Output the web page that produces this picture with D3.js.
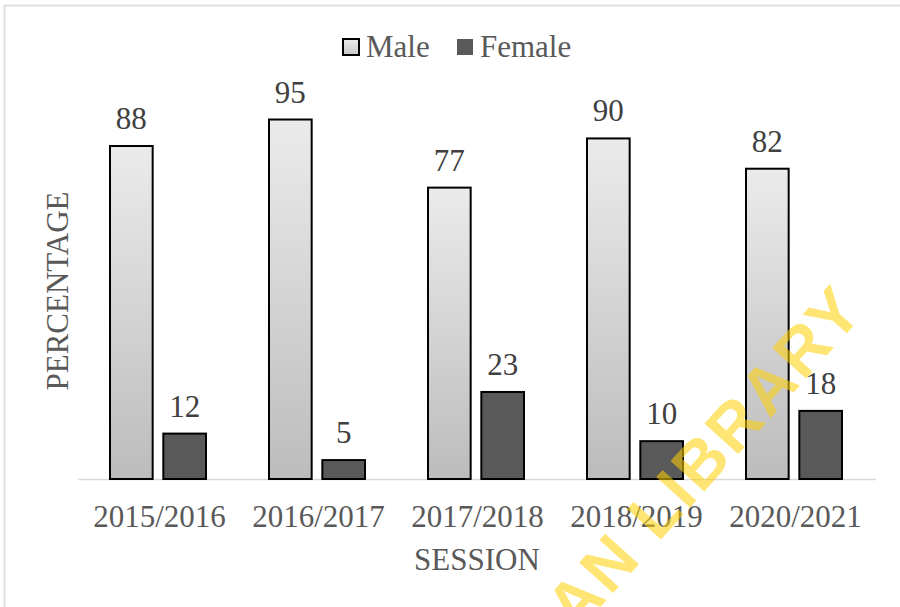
<!DOCTYPE html>
<html>
<head>
<meta charset="utf-8">
<script src="https://cdn.jsdelivr.net/npm/d3@7"></script>
<style>
  html, body { margin: 0; padding: 0; background: #fff; }
  svg { display: block; }
  .serif { font-family: "Liberation Serif", "Times New Roman", serif; }
  .wm { font-family: "Liberation Sans", Arial, sans-serif; font-weight: 700; }
</style>
</head>
<body>
<svg id="chart" width="900" height="607"></svg>
<script>
const categories = ["2015/2016", "2016/2017", "2017/2018", "2018/2019", "2020/2021"];
const seriesNames = ["Male", "Female"];
const maleValues = [88, 95, 77, 90, 82];
const femaleValues = [12, 5, 23, 10, 18];
const xTitle = "SESSION";
const yTitle = "PERCENTAGE";
const watermarkText = "AN LIBRARY";

const svg = d3.select("#chart");
const W = 900, H = 607;

// frame
svg.append("rect").attr("x", 4.5).attr("y", 5.5).attr("width", W).attr("height", H)
  .attr("fill", "#fff").attr("stroke", "#e0e0e0").attr("stroke-width", 2);

const defs = svg.append("defs");
const grad = defs.append("linearGradient").attr("id", "maleGrad")
  .attr("x1", 0).attr("y1", 0).attr("x2", 0).attr("y2", 1);
grad.append("stop").attr("offset", "0%").attr("stop-color", "#ebebeb");
grad.append("stop").attr("offset", "100%").attr("stop-color", "#bcbcbc");
const lgrad = defs.append("linearGradient").attr("id", "maleGradLegend")
  .attr("x1", 0).attr("y1", 0).attr("x2", 0).attr("y2", 1);
lgrad.append("stop").attr("offset", "0%").attr("stop-color", "#ececec");
lgrad.append("stop").attr("offset", "100%").attr("stop-color", "#c8c8c8");

const baseY = 479;
const x0 = d3.scaleBand().domain(categories).range([80, 875]).padding(0);
const x1 = d3.scaleBand().domain(seriesNames).range([30, 126]).paddingInner(0.2);
const y = d3.scaleLinear().domain([0, 100]).range([baseY, baseY - 378.4]);

const data = categories.map((c, i) => ({ cat: c, values: [
  { key: "Male", v: maleValues[i] },
  { key: "Female", v: femaleValues[i] }
]}));

const fills = { Male: "url(#maleGrad)", Female: "#595959" };

// axis line
svg.append("line").attr("x1", 78).attr("x2", 876).attr("y1", baseY + 0.5).attr("y2", baseY + 0.5)
  .attr("stroke", "#d9d9d9").attr("stroke-width", 1.5);

const groups = svg.selectAll("g.grp").data(data).join("g")
  .attr("class", "grp")
  .attr("transform", d => `translate(${x0(d.cat)},0)`);

groups.selectAll("rect").data(d => d.values).join("rect")
  .attr("x", d => x1(d.key))
  .attr("y", d => y(d.v))
  .attr("width", x1.bandwidth())
  .attr("height", d => baseY - y(d.v))
  .attr("fill", d => fills[d.key])
  .attr("stroke", "#000")
  .attr("stroke-width", 2);

groups.selectAll("text.val").data(d => d.values).join("text")
  .attr("class", "val serif")
  .attr("x", d => x1(d.key) + x1.bandwidth() / 2)
  .attr("y", d => y(d.v) - 17)
  .attr("text-anchor", "middle")
  .attr("font-size", 31)
  .attr("fill", "#404040")
  .text(d => d.v);

// x tick labels via axis
const xAxis = d3.axisBottom(x0).tickSize(0).tickPadding(0);
const gx = svg.append("g").attr("transform", `translate(0,${baseY})`).call(xAxis);
gx.select(".domain").remove();
gx.attr("font-family", null).attr("font-size", null);
gx.selectAll("text")
  .attr("class", "serif")
  .attr("dy", 0).attr("y", 48)
  .attr("font-size", 31)
  .attr("fill", "#595959");

// axis titles
svg.append("text").attr("class", "serif").attr("x", 477).attr("y", 570).attr("text-anchor", "middle")
  .attr("font-size", 31).attr("fill", "#595959").text(xTitle);
svg.append("text").attr("class", "serif").attr("transform", "translate(68,291) rotate(-90)").attr("text-anchor", "middle")
  .attr("font-size", 31).attr("fill", "#595959").text(yTitle);

// legend
const legend = [
  { key: "Male", rx: 343, tx: 366 },
  { key: "Female", rx: 457, tx: 480 }
];
legend.forEach(l => {
  svg.append("rect").attr("x", l.rx).attr("y", 39).attr("width", 16).attr("height", 16)
    .attr("fill", l.key === "Male" ? "url(#maleGradLegend)" : "#595959")
    .attr("stroke", l.key === "Male" ? "#000" : "none").attr("stroke-width", 2);
  svg.append("text").attr("class", "serif").attr("x", l.tx).attr("y", 57).attr("font-size", 31)
    .attr("fill", "#595959").text(l.key);
});

// watermark
svg.append("text")
  .attr("class", "wm")
  .attr("transform", "translate(576,634) rotate(-48)")
  .attr("font-size", 66)
  .attr("letter-spacing", 3)
  .attr("fill", "#ffd000")
  .attr("fill-opacity", 0.55)
  .text(watermarkText);
</script>
</body>
</html>
